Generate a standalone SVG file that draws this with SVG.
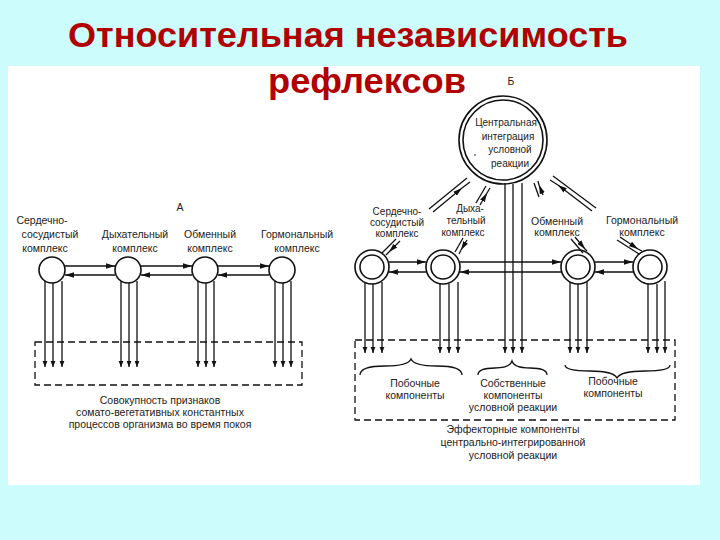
<svg xmlns="http://www.w3.org/2000/svg" width="720" height="540" viewBox="0 0 720 540">
<defs>
<marker id="ah" viewBox="0 0 10 10" refX="10" refY="5" markerWidth="9" markerHeight="9" markerUnits="userSpaceOnUse" orient="auto"><path d="M0,2 L10,5 L0,8 Z" fill="#111"/></marker>
<marker id="dh" viewBox="0 0 10 10" refX="10" refY="5" markerWidth="10" markerHeight="6" markerUnits="userSpaceOnUse" orient="auto"><path d="M0,1 L10,5 L0,9 Z" fill="#111"/></marker>
<style>
.t{font-family:"Liberation Sans",Arial,sans-serif;font-size:10.5px;fill:#222;text-anchor:middle}
.s{font-size:10px}
.ttl{font-family:"Liberation Sans",Arial,sans-serif;font-weight:bold;font-size:35px;fill:#b00000;text-anchor:middle}
.c{fill:#fff;stroke:#111;stroke-width:1.6}
.l{stroke:#111;stroke-width:1.3;fill:none}
.a{stroke:#111;stroke-width:1.3;fill:none;marker-end:url(#ah)}
.d{stroke:#111;stroke-width:1.3;fill:none;marker-end:url(#dh)}
.box{stroke:#111;stroke-width:1.3;fill:none;stroke-dasharray:7,4}
</style>
</defs>
<rect width="720" height="540" fill="#ccfcfc"/>
<rect x="8" y="66" width="692" height="419" fill="#fff"/>
<text class="ttl" x="348" y="47" textLength="560" lengthAdjust="spacingAndGlyphs">Относительная независимость</text>
<text class="ttl" x="367" y="93" textLength="198" lengthAdjust="spacingAndGlyphs">рефлексов</text>

<g id="labels-A">
<text class="t" x="180" y="211">А</text>
<text class="t" x="42" y="224">Сердечно-</text>
<text class="t" x="50" y="238">сосудистый</text>
<text class="t" x="45" y="252">комплекс</text>
<text class="t" x="135" y="238">Дыхательный</text>
<text class="t" x="135" y="252">комплекс</text>
<text class="t" x="210" y="238">Обменный</text>
<text class="t" x="210" y="252">комплекс</text>
<text class="t" x="297" y="238">Гормональный</text>
<text class="t" x="297" y="252">комплекс</text>
<text class="t" x="160" y="404">Совокупность признаков</text>
<text class="t" x="160" y="416">сомато-вегетативных константных</text>
<text class="t" x="160" y="428">процессов организма во время покоя</text>
</g>
<g id="nodes-A">
<circle id="a1" class="c" cx="52" cy="270" r="13"/>
<circle id="a2" class="c" cx="128" cy="270" r="13"/>
<circle id="a3" class="c" cx="205" cy="270" r="13"/>
<circle id="a4" class="c" cx="282" cy="270" r="13"/>
<rect class="box" x="35" y="342" width="267" height="43"/>
</g>
<g id="connectors-A">
<path class="a" d="M65,266H115"/><path class="a" d="M141,266H192"/><path class="a" d="M218,266H269"/>
<path class="a" d="M115,275H65"/><path class="a" d="M192,275H141"/><path class="a" d="M269,275H218"/>
<path class="d" d="M45,281V367"/><path class="d" d="M53,283V367"/><path class="d" d="M62,281V367"/>
<path class="d" d="M121,281V367"/><path class="d" d="M129,283V367"/><path class="d" d="M137,281V367"/>
<path class="d" d="M198,281V367"/><path class="d" d="M206,283V367"/><path class="d" d="M214,281V367"/>
<path class="d" d="M275,281V367"/><path class="d" d="M283,283V367"/><path class="d" d="M291,281V367"/>
</g>

<g id="labels-B">
<text class="t" x="511" y="85">Б</text>
<text class="t s" x="397" y="215">Сердечно-</text>
<text class="t s" x="397" y="226">сосудистый</text>
<text class="t s" x="397" y="237">комплекс</text>
<text class="t s" x="470" y="212">Дыха-</text>
<text class="t s" x="466" y="224">тельный</text>
<text class="t s" x="463" y="236">комплекс</text>
<text class="t" x="557" y="225">Обменный</text>
<text class="t" x="557" y="236">комплекс</text>
<text class="t" x="642" y="224">Гормональный</text>
<text class="t" x="642" y="236">комплекс</text>
<text class="t" x="415" y="387">Побочные</text>
<text class="t" x="415" y="399">компоненты</text>
<text class="t" x="513" y="387">Собственные</text>
<text class="t" x="513" y="399">компоненты</text>
<text class="t" x="513" y="411">условной реакции</text>
<text class="t" x="613" y="385">Побочные</text>
<text class="t" x="613" y="397">компоненты</text>
<text class="t" x="513" y="433">Эффекторные компоненты</text>
<text class="t" x="513" y="446">центрально-интегрированной</text>
<text class="t" x="513" y="459">условной реакции</text>
</g>
<g id="center-B">
<circle class="c" cx="503" cy="140" r="44"/>
<circle class="c" cx="503" cy="140" r="40"/>
<text class="t s" x="506" y="126">Центральная</text>
<text class="t s" x="508" y="140">интеграция</text>
<text class="t s" x="510" y="153">условной</text>
<text class="t s" x="510" y="167">реакции</text>
<circle cx="475" cy="155" r="0.8" fill="#111"/>
</g>
<g id="nodes-B">
<g id="b1"><circle class="c" cx="372" cy="267" r="17"/><circle class="c" cx="372" cy="267" r="12"/></g>
<g id="b2"><circle class="c" cx="443" cy="267" r="17"/><circle class="c" cx="443" cy="267" r="12"/></g>
<g id="b3"><circle class="c" cx="578" cy="267" r="17"/><circle class="c" cx="578" cy="267" r="12"/></g>
<g id="b4"><circle class="c" cx="650" cy="267" r="17"/><circle class="c" cx="650" cy="267" r="12"/></g>
<rect class="box" x="355" y="340" width="320" height="80"/>
<path class="l" d="M360,375Q360,366 385,366Q408,366 411,359Q414,366 437,366Q462,366 462,375"/>
<path class="l" d="M478,375Q478,368 495,368Q510,368 512,361Q514,368 530,368Q547,368 547,375"/>
<path class="l" d="M565,365Q565,371 590,371Q613,371 617,378Q621,371 645,371Q670,371 670,365"/>
</g>
<g id="connectors-B">
<path class="l" d="M429,209L467,178"/><path class="a" d="M433,212L462,188"/><path class="l" d="M462,188L470,182"/>
<path class="l" d="M476,203L486,186"/><path class="a" d="M480,205L487,193"/><path class="l" d="M487,193L490,188"/>
<path class="l" d="M539,197L534,183"/><path class="a" d="M543,195L539,185"/><path class="l" d="M539,185L538,181"/>
<path class="l" d="M596,208L553,176"/><path class="a" d="M592,211L558,185"/><path class="l" d="M558,185L550,180"/>
<path class="l" d="M396,239L382,253"/><path class="a" d="M400,241L389,252"/><path class="l" d="M389,252L386,255"/>
<path class="l" d="M463,238L455,252"/><path class="a" d="M467,240L461,250"/><path class="l" d="M461,250L459,254"/>
<path class="l" d="M571,239L583,253"/><path class="a" d="M575,237L585,249"/><path class="l" d="M585,249L587,251"/>
<path class="l" d="M617,240L639,254"/><path class="a" d="M620,237L638,249"/><path class="l" d="M638,249L642,251"/>
<path class="a" d="M389,262H426"/><path class="a" d="M426,272H389"/>
<path class="a" d="M460,262H561"/><path class="a" d="M561,272H460"/>
<path class="a" d="M595,262H633"/><path class="a" d="M633,272H595"/>
<path class="d" d="M505,183V353"/><path class="d" d="M513,184V353"/><path class="d" d="M522,183V353"/>
<path class="d" d="M365,282V353"/><path class="d" d="M373,284V353"/><path class="d" d="M382,282V353"/>
<path class="d" d="M440,284V353"/><path class="d" d="M449,284V353"/><path class="d" d="M458,282V353"/>
<path class="d" d="M570,282V353"/><path class="d" d="M578,284V353"/><path class="d" d="M587,282V353"/>
<path class="d" d="M648,284V353"/><path class="d" d="M657,284V353"/><path class="d" d="M665,281V353"/>
</g>
</svg>
